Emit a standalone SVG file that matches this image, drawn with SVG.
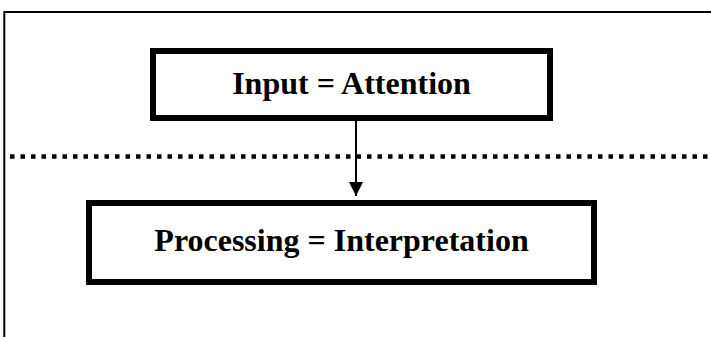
<svg xmlns="http://www.w3.org/2000/svg" width="711" height="337" viewBox="0 0 711 337">
<defs>
<style>
.box{fill:#fff;stroke:#000;stroke-width:6}
.lbl{font-family:"Liberation Serif","Times New Roman",serif;font-weight:bold;font-size:32px;fill:#000;text-anchor:middle}
.frame{stroke:#000;stroke-width:2;fill:none}
</style>
<marker id="arr" markerWidth="16" markerHeight="14" refX="16" refY="8" orient="auto" markerUnits="userSpaceOnUse" viewBox="0 0 16 16">
<path d="M0,0 L16,8 L0,16 z" fill="#000"/>
</marker>
</defs>
<rect width="711" height="337" fill="#fff"/>
<g id="frame">
<path class="frame" d="M4.3,337 V12 H711"/>
</g>
<g id="separator">
<line x1="10" y1="156.5" x2="711" y2="156.5" stroke="#000" stroke-width="4.5" stroke-dasharray="4.5 6"/>
</g>
<g id="connectors">
<line x1="356" y1="121" x2="356" y2="196" stroke="#000" stroke-width="2" marker-end="url(#arr)"/>
</g>
<g id="node-input">
<rect class="box" x="153" y="51" width="397" height="67"/>
<text class="lbl" x="351.5" y="94">Input = Attention</text>
</g>
<g id="node-processing">
<rect class="box" x="89" y="203" width="505" height="79"/>
<text class="lbl" x="341.5" y="251">Processing = Interpretation</text>
</g>
</svg>
